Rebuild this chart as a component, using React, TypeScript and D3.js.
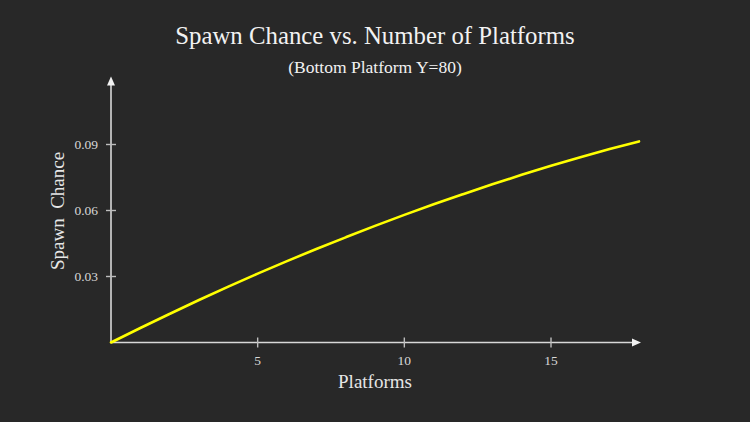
import { useEffect, useRef } from 'react';
import * as d3 from 'd3';

// Platforms on the x axis (0..18) and the read-off spawn chance for each
const platforms = [0, 1, 2, 3, 4, 5, 6, 7, 8, 9, 10, 11, 12, 13, 14, 15, 16, 17, 18];
const spawnChance = [
  0, 0.0066, 0.0130, 0.0193, 0.0254, 0.0313, 0.0370, 0.0425, 0.0478, 0.0530,
  0.0580, 0.0628, 0.0674, 0.0719, 0.0762, 0.0803, 0.0842, 0.0879, 0.0914,
];
const xTicks = [5, 10, 15];
const yTicks = [0.03, 0.06, 0.09];

const W = 750;
const H = 422;
const SERIF = '"Liberation Serif", "DejaVu Serif", serif';

export default function App() {
  const svgRef = useRef<SVGSVGElement>(null);

  useEffect(() => {
    if (!svgRef.current) return;
    const svg = d3.select(svgRef.current);
    svg.selectAll('*').remove();

    const x = d3.scaleLinear().domain([0, 18]).range([111, 639]);
    const y = d3.scaleLinear().domain([0, 0.12]).range([342.5, 78.5]);

    svg.append('rect').attr('width', W).attr('height', H).attr('fill', '#282828');

    // titles
    svg.append('text')
      .attr('x', W / 2).attr('y', 44)
      .attr('text-anchor', 'middle')
      .attr('font-family', SERIF).attr('font-size', 24.8)
      .attr('fill', '#f2f2f2')
      .text('Spawn Chance vs. Number of Platforms');

    svg.append('text')
      .attr('x', W / 2).attr('y', 73)
      .attr('text-anchor', 'middle')
      .attr('font-family', SERIF).attr('font-size', 17.5)
      .attr('fill', '#f2f2f2')
      .text('(Bottom Platform Y=80)');

    const axisColor = '#d8d8d8';
    const [x0, x1] = x.range();
    const y0 = y(0);

    // x axis line + arrow
    svg.append('line')
      .attr('x1', x0).attr('x2', x1 - 2)
      .attr('y1', y0).attr('y2', y0)
      .attr('stroke', axisColor).attr('stroke-width', 1.6);
    svg.append('path')
      .attr('d', `M${x1 + 2},${y0} L${x1 - 7},${y0 - 4} L${x1 - 7},${y0 + 4} Z`)
      .attr('fill', '#f2f2f2');

    // y axis line + arrow
    const yTop = y(0.12);
    svg.append('line')
      .attr('x1', x0).attr('x2', x0)
      .attr('y1', y0).attr('y2', yTop + 2)
      .attr('stroke', axisColor).attr('stroke-width', 1.6);
    svg.append('path')
      .attr('d', `M${x0},${yTop - 2} L${x0 - 4},${yTop + 7} L${x0 + 4},${yTop + 7} Z`)
      .attr('fill', '#f2f2f2');

    // x ticks
    const xt = svg.append('g');
    xTicks.forEach(t => {
      xt.append('line')
        .attr('x1', x(t)).attr('x2', x(t))
        .attr('y1', y0 - 5).attr('y2', y0 + 5)
        .attr('stroke', '#bdbdbd').attr('stroke-width', 1.4);
      xt.append('text')
        .attr('x', x(t)).attr('y', y0 + 22)
        .attr('text-anchor', 'middle')
        .attr('font-family', SERIF).attr('font-size', 13.5)
        .attr('fill', '#d8d8d8')
        .text(t);
    });

    // y ticks
    const yt = svg.append('g');
    yTicks.forEach(t => {
      yt.append('line')
        .attr('x1', x0 - 5).attr('x2', x0 + 5)
        .attr('y1', y(t)).attr('y2', y(t))
        .attr('stroke', '#bdbdbd').attr('stroke-width', 1.4);
      yt.append('text')
        .attr('x', x0 - 13).attr('y', y(t))
        .attr('dy', '0.35em')
        .attr('text-anchor', 'end')
        .attr('font-family', SERIF).attr('font-size', 13.5)
        .attr('fill', '#d8d8d8')
        .text(t.toFixed(2));
    });

    // axis labels
    svg.append('text')
      .attr('x', 375).attr('y', 388)
      .attr('text-anchor', 'middle')
      .attr('font-family', SERIF).attr('font-size', 19)
      .attr('fill', '#e6e6e6')
      .text('Platforms');

    svg.append('text')
      .attr('transform', `translate(64,211) rotate(-90)`)
      .attr('text-anchor', 'middle')
      .attr('font-family', SERIF).attr('font-size', 19)
      .attr('fill', '#e6e6e6')
      .attr('xml:space', 'preserve')
      .style('white-space', 'pre')
      .text('Spawn  Chance');

    // curve
    const data = platforms.map((p, i) => ({ p, v: spawnChance[i] }));
    const line = d3.line<{ p: number; v: number }>()
      .x(d => x(d.p))
      .y(d => y(d.v))
      .curve(d3.curveMonotoneX);

    svg.append('path')
      .datum(data)
      .attr('fill', 'none')
      .attr('stroke', '#ffff00')
      .attr('stroke-width', 2.6)
      .attr('stroke-linecap', 'round')
      .attr('d', line);
  }, []);

  return (
    <div style={{ position: 'fixed', left: 0, top: 0, width: W, height: H, background: '#282828' }}>
      <svg ref={svgRef} width={W} height={H} style={{ display: 'block' }} />
    </div>
  );
}
